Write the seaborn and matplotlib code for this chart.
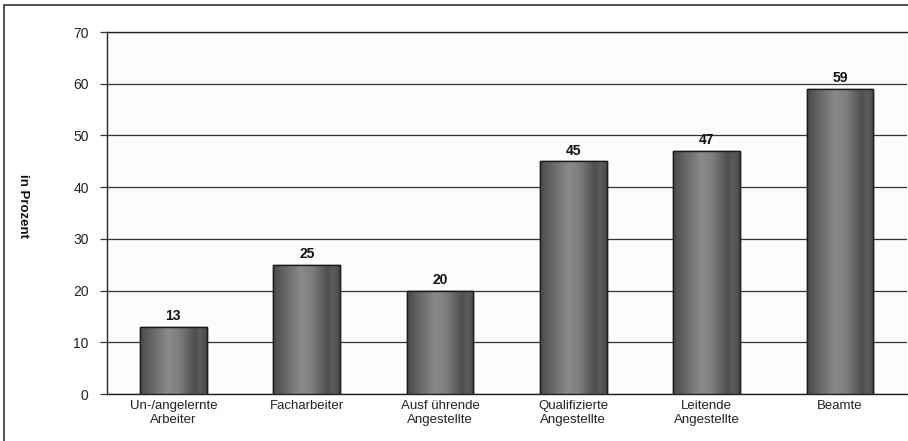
import numpy as np
import pandas as pd
import matplotlib
matplotlib.use("Agg")
import matplotlib.pyplot as plt
from matplotlib.patches import Rectangle
from matplotlib.colors import LinearSegmentedColormap
import seaborn as sns

categories = ["Un-/angelernte\nArbeiter", "Facharbeiter", "Ausf ührende\nAngestellte",
              "Qualifizierte\nAngestellte", "Leitende\nAngestellte", "Beamte"]
values = [13, 25, 20, 45, 47, 59]
y_ticks = [0, 10, 20, 30, 40, 50, 60, 70]

sns.set_theme(style="white")
plt.rcParams["font.family"] = ["Liberation Sans", "DejaVu Sans"]

df = pd.DataFrame({"cat": categories, "val": values})

fig = plt.figure(figsize=(9.08, 4.41), dpi=100)
W, H = 908, 441
ax = fig.add_axes([106.7 / W, 1 - 394 / H, 800 / W, (394 - 32) / H])
ax.set_facecolor("#fcfcfc")

# outer frame of the figure
fig.patches.append(Rectangle((4 / W, -0.1), 1.2, 1 - 5 / H + 0.1, transform=fig.transFigure,
                             fill=False, edgecolor="#333333", linewidth=1.2, zorder=0))

sns.barplot(data=df, x="cat", y="val", ax=ax, color="#6e6e70", width=0.5,
            edgecolor="#1a1a1a", linewidth=1.0, zorder=3)

# cylinder-like grey shading across each bar
shade = LinearSegmentedColormap.from_list(
    "shade",
    [(0.0, "#4a4a4c"), (0.15, "#616163"), (0.42, "#8a8a8c"), (0.6, "#7c7c7e"),
     (0.82, "#4f4f51"), (0.9, "#5c5c5e"), (1.0, "#4a4a4c")])
grad = np.linspace(0, 1, 256).reshape(1, -1)
for p in ax.patches:
    x0, y0 = p.get_x(), p.get_y()
    w, h = p.get_width(), p.get_height()
    im = ax.imshow(grad, cmap=shade, aspect="auto", extent=(x0, x0 + w, y0, y0 + h),
                   zorder=3.5, interpolation="bilinear")
    im.set_clip_path(p)
    ax.add_patch(Rectangle((x0, y0), w, h, fill=False, edgecolor="#1a1a1a",
                           linewidth=1.0, zorder=4))

for i, v in enumerate(values):
    ax.annotate(str(v), (i, v), xytext=(0, 2.5), textcoords="offset points",
                ha="center", va="bottom", fontsize=10, fontweight="bold", color="#111111")

ax.set_xlim(-0.5, len(categories) - 0.5)
ax.set_ylim(0, 70)
ax.set_yticks(y_ticks)
ax.set_yticklabels([str(t) for t in y_ticks], fontsize=10, color="#222222")
ax.yaxis.grid(True, color="#333333", linewidth=0.9, zorder=0)
ax.set_axisbelow(True)

ax.set_xticks(range(len(categories)))
ax.set_xticklabels(categories, fontsize=9.5, color="#222222", linespacing=1.3)
ax.tick_params(axis="x", which="major", length=0, pad=4)
ax.set_xticks(np.arange(-0.5, len(categories), 1.0), minor=True)
ax.tick_params(axis="x", which="minor", length=5, direction="out", color="#333333", width=0.9)
ax.tick_params(axis="y", length=5, direction="out", color="#333333", width=0.9, pad=8, left=True)

for side in ["left", "bottom", "top"]:
    ax.spines[side].set_visible(True)
    ax.spines[side].set_color("#222222")
    ax.spines[side].set_linewidth(1.0)
ax.spines["right"].set_visible(False)

ax.set_xlabel("")
ax.set_ylabel("in Prozent", fontsize=9.5, fontweight="bold", rotation=-90,
              labelpad=0, color="#111111", va="center")
ax.yaxis.set_label_coords(-0.105, 0.52)

fig.savefig("out.png", dpi=100, facecolor="white")
